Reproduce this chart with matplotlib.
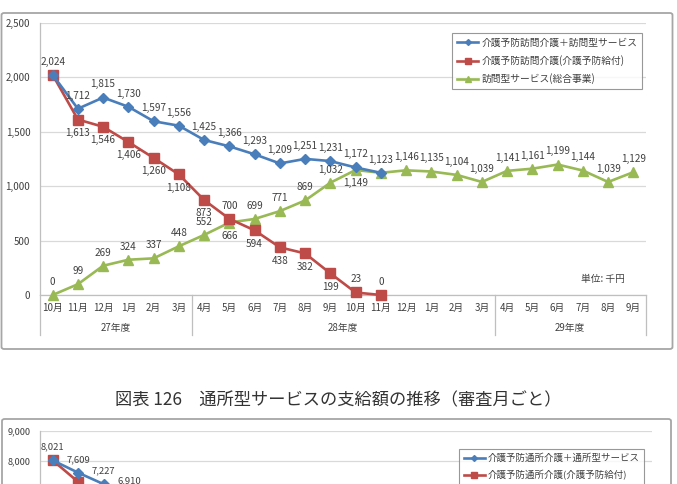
import matplotlib
matplotlib.use("Agg")
import matplotlib.pyplot as plt
from matplotlib.patches import FancyBboxPatch
from matplotlib.lines import Line2D
import matplotlib.transforms as mtransforms

plt.rcParams['font.family'] = ['Noto Sans CJK JP', 'DejaVu Sans']

# --- data (top chart: 訪問型サービス) ---
months = ['10月', '11月', '12月', '1月', '2月', '3月',
          '4月', '5月', '6月', '7月', '8月', '9月', '10月', '11月', '12月', '1月', '2月', '3月',
          '4月', '5月', '6月', '7月', '8月', '9月']
fiscal_years = ['27年度', '28年度', '29年度']
fy_sizes = [6, 12, 6]

total = [2024, 1712, 1815, 1730, 1597, 1556, 1425, 1366, 1293, 1209, 1251, 1231, 1172, 1123]
yobo = [2024, 1613, 1546, 1406, 1260, 1108, 873, 700, 594, 438, 382, 199, 23, 0]
sogo = [0, 99, 269, 324, 337, 448, 552, 666, 699, 771, 869, 1032, 1149, 1123,
        1146, 1135, 1104, 1039, 1141, 1161, 1199, 1144, 1039, 1129]

legend_labels = ['介護予防訪問介護＋訪問型サービス', '介護予防訪問介護(介護予防給付)', '訪問型サービス(総合事業)']

# label placement: +1 above, -1 below, 0 none
total_pos = [0, 1, 1, 1, 1, 1, 1, 1, 1, 1, 1, 1, 1, 0]
yobo_pos = [1, -1, -1, -1, -1, -1, -1, 1, -1, -1, -1, -1, 1, 1]
sogo_pos = [1] * 7 + [-1] + [1] * 4 + [-1] + [1] * 11

# --- data (second chart: 通所型サービス, only top part visible) ---
total2 = [8021, 7609, 7227, 6910]
yobo2 = [8021, 7300, 6500]
legend_labels2 = ['介護予防通所介護＋通所型サービス', '介護予防通所介護(介護予防給付)', '通所型サービス(総合事業)']

caption = '図表 126　通所型サービスの支給額の推移（審査月ごと）'

BLUE = '#4A7EBB'
RED = '#BE4B48'
GREEN = '#98B954'
GRID = '#D9D9D9'
TXT = '#404040'

W, H = 677, 484
fig = plt.figure(figsize=(W / 100, H / 100), dpi=100)


def fx(px):
    return px / W


def fy(py):
    return (H - py) / H


# chart frames
for (x0, y0, w, h) in [(1.5, 349, 671, 336), (2, 560, 669, 141)]:
    fig.patches.append(FancyBboxPatch((fx(x0), fy(y0)), fx(w), h / H,
                                      boxstyle='round,pad=0,rounding_size=0.004',
                                      transform=fig.transFigure, fc='none',
                                      ec='#A6A6A6', lw=1.3, zorder=-1))


def style_axes(ax, ymax, step, fs, tick_min=0):
    ax.set_xlim(-0.5, 23.5)
    ax.set_ylim(0, ymax)
    ticks = list(range(tick_min, ymax + 1, step))
    ax.set_yticks(ticks)
    ax.set_yticklabels([f'{v:,}' for v in ticks], fontsize=fs, color=TXT)
    ax.yaxis.grid(True, color=GRID, lw=0.9)
    ax.set_axisbelow(True)
    for s in ['top', 'right']:
        ax.spines[s].set_visible(False)
    for s in ['left', 'bottom']:
        ax.spines[s].set_color('#BFBFBF')
        ax.spines[s].set_linewidth(0.9)
    ax.tick_params(axis='y', length=0, pad=7)
    ax.set_facecolor('none')


def draw_series(ax, vals, color, marker, ms, positions, fs, off=9.5):
    xs = list(range(len(vals)))
    ax.plot(xs, vals, color=color, lw=1.9, marker=marker, ms=ms,
            mfc=color, mec=color, clip_on=False, zorder=3)
    for x, v, p in zip(xs, vals, positions):
        if p == 0:
            continue
        ax.annotate(f'{v:,}', (x, v), xytext=(0, off * p), textcoords='offset points',
                    ha='center', va='center', fontsize=fs, color=TXT, zorder=5)


# ---- top chart ----
ax = fig.add_axes([fx(40), fy(295), fx(606), 272 / H])
style_axes(ax, 2500, 500, 7)
ax.set_xticks(range(24))
ax.set_xticklabels(months, fontsize=7, color=TXT)
ax.tick_params(axis='x', length=0, pad=6)

draw_series(ax, sogo, GREEN, '^', 7.5, sogo_pos, 7.2)
draw_series(ax, yobo, RED, 's', 6.5, yobo_pos, 7.2)
draw_series(ax, total, BLUE, 'D', 5, total_pos, 7.2)

# multi-level category axis
trans = mtransforms.blended_transform_factory(ax.transData, ax.transAxes)
bounds = [-0.5]
for n in fy_sizes:
    bounds.append(bounds[-1] + n)
for b in bounds:
    ax.plot([b, b], [0, -40 / 272], transform=trans, color='#BFBFBF', lw=0.9, clip_on=False)
for i, name in enumerate(fiscal_years):
    ax.text((bounds[i] + bounds[i + 1]) / 2, -33 / 272, name, transform=trans,
            ha='center', va='center', fontsize=7, color=TXT)

fig.text(fx(603), fy(279), '単位: 千円', ha='center', va='center', fontsize=7, color=TXT)

handles = [Line2D([], [], color=BLUE, lw=1.9, marker='D', ms=3),
           Line2D([], [], color=RED, lw=1.9, marker='s', ms=4),
           Line2D([], [], color=GREEN, lw=1.9, marker='^', ms=4)]
leg = fig.legend(handles, legend_labels, loc='upper left', bbox_to_anchor=(fx(452), fy(33)),
                 fontsize=7, frameon=True, fancybox=False, edgecolor='#7F7F7F',
                 handlelength=2.2, handletextpad=0.3, labelspacing=0.75,
                 borderpad=0.5, borderaxespad=0, labelcolor=TXT)
leg.get_frame().set_linewidth(0.8)

# ---- caption ----
fig.text(fx(338), fy(400), caption, ha='center', va='center', fontsize=12.4, color='#333333')

# ---- second chart (cut off at the bottom) ----
ax2 = fig.add_axes([fx(40), fy(701), fx(612), 270 / H])
style_axes(ax2, 9000, 1000, 6.6, tick_min=8000)
ax2.set_xticks([])
draw_series(ax2, yobo2, RED, 's', 6.5, [0, 0, 0], 6.8)
draw_series(ax2, total2, BLUE, 'D', 5, [1, 1, 1, 1], 6.8)

leg2 = fig.legend(handles, legend_labels2, loc='upper left',
                  bbox_to_anchor=(fx(459), fy(449)), fontsize=6.8, frameon=True,
                  fancybox=False, edgecolor='#7F7F7F', handlelength=2.2,
                  handletextpad=0.3, labelspacing=0.7, borderpad=0.5,
                  borderaxespad=0, labelcolor=TXT)
leg2.get_frame().set_linewidth(0.8)

fig.savefig('out.png', dpi=100, facecolor='white')
